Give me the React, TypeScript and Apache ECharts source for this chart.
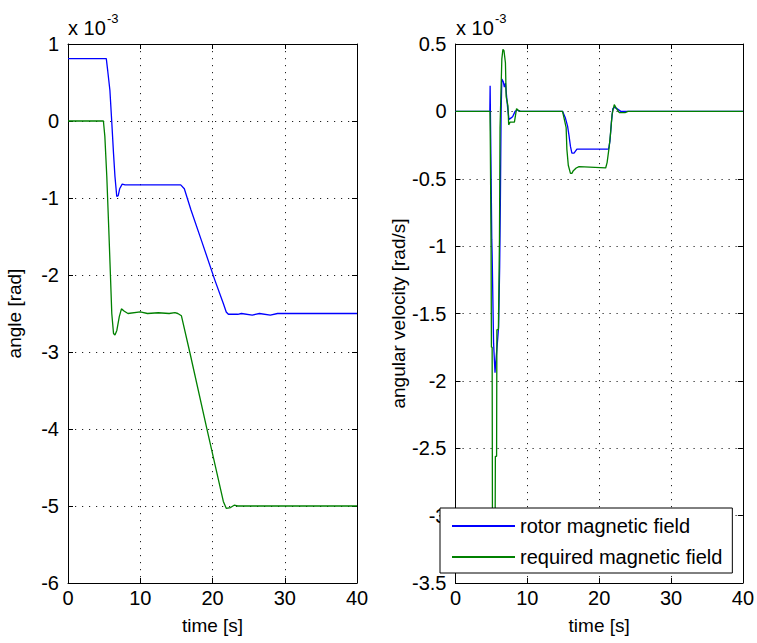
import { useEffect, useRef } from 'react';
import * as echarts from 'echarts';

// ---------- data (values ×1e-3) ----------
const seriesNames = ['rotor magnetic field', 'required magnetic field'];

const angleRotor: number[][] = [
  [0, 0.81], [5.3, 0.81], [5.5, 0.65], [5.8, 0.4], [6.05, 0.0], [6.3, -0.42], [6.5, -0.72],
  [6.75, -0.98], [6.95, -0.97], [7.15, -0.88], [7.5, -0.82], [7.9, -0.83], [15.6, -0.83],
  [16.1, -0.88], [17, -1.15], [18.5, -1.56], [20.3, -2.06], [21.5, -2.37], [21.9, -2.48],
  [22.2, -2.51], [23.5, -2.51], [24, -2.5], [25.5, -2.52], [26.5, -2.5], [28, -2.52],
  [29, -2.5], [40, -2.5],
];

const angleRequired: number[][] = [
  [0, 0], [4.9, 0], [5.1, -0.2], [5.37, -0.72], [5.65, -1.42], [5.88, -2.02], [6.06, -2.5],
  [6.3, -2.76], [6.5, -2.78], [6.76, -2.72], [7.1, -2.54], [7.4, -2.44], [7.8, -2.47],
  [8.3, -2.5], [10, -2.48], [11, -2.5], [12.5, -2.49], [14, -2.5], [14.8, -2.49], [15.2, -2.5],
  [15.7, -2.53], [16.85, -3.0], [19.2, -3.99], [21.5, -4.94], [21.9, -5.03], [22.5, -5.02],
  [23.0, -4.99], [23.5, -5.0], [40, -5.0],
];

const velRotor: number[][] = [
  [0, 0], [4.78, 0], [4.82, 0.19], [4.9, -0.2], [5.05, -0.95], [5.1, -1.06], [5.3, -1.72],
  [5.5, -1.94], [5.55, -1.9], [5.9, -1.67], [6.0, -1.6], [6.15, -1.15], [6.25, -0.65],
  [6.35, 0.0], [6.45, 0.24], [6.65, 0.22], [6.8, 0.18], [6.95, 0.21], [7.1, 0.12], [7.25, 0.03],
  [7.45, -0.06], [7.7, -0.05], [7.95, -0.04], [8.3, 0.0], [8.6, 0.01], [9.0, 0], [14.9, 0],
  [15.3, -0.05], [15.6, -0.11], [15.8, -0.18], [16.0, -0.26], [16.2, -0.31], [16.5, -0.31],
  [16.9, -0.28], [21.3, -0.28], [21.5, -0.22], [21.7, -0.08], [21.9, 0.02], [22.1, 0.03],
  [22.5, 0.02], [23.0, 0], [40, 0],
];

const velRequired: number[][] = [
  [0, 0], [4.8, 0], [4.85, -0.27], [4.95, -1.0], [5.0, -1.75], [5.1, -1.75], [5.15, -3.3],
  [5.5, -3.3], [5.55, -2.56], [5.72, -2.56], [5.76, -1.62], [5.97, -1.62], [6.12, -0.95],
  [6.2, -0.12], [6.45, 0.39], [6.6, 0.46], [6.75, 0.45], [6.95, 0.36], [7.05, 0.11],
  [7.3, 0.04], [7.4, -0.1], [7.6, -0.08], [8.2, -0.08], [8.5, 0.02], [8.7, 0.01], [9, 0],
  [14.9, 0], [15.4, -0.12], [15.5, -0.28], [15.7, -0.4], [16.0, -0.46], [16.2, -0.46],
  [16.4, -0.44], [16.8, -0.42], [17.2, -0.41], [20.9, -0.42], [21.1, -0.38], [21.4, -0.26],
  [21.6, -0.15], [21.8, -0.02], [22.1, 0.05], [22.4, 0.02], [22.8, -0.01], [23.6, -0.01],
  [24, 0], [40, 0],
];

const timeRange = [0, 40, 10];
const angleRange = [-6, 1, 1];
const velRange = [-3.5, 0.5, 0.5];
const axisNames = { time: 'time [s]', angle: 'angle [rad]', vel: 'angular velocity [rad/s]' };
const exponentLabel = ['x 10', '-3'];

const FONT = "'Liberation Sans', Arial, Helvetica, sans-serif";
const BLUE = '#0000ff';
const GREEN = '#008000';

function axis(kind: 'x' | 'y', grid: number, range: number[], primary: boolean, position: string, name?: string, nameGap?: number) {
  return {
    type: 'value',
    gridIndex: grid,
    position,
    min: range[0],
    max: range[1],
    interval: range[2],
    name: primary ? name : undefined,
    nameLocation: 'middle',
    nameGap,
    nameTextStyle: { fontFamily: FONT, fontSize: 19, color: '#000' },
    axisLine: { show: true, onZero: false, lineStyle: { color: '#000', width: 1 } },
    axisTick: { show: true, inside: true, length: 5, lineStyle: { color: '#000', width: 1 } },
    axisLabel: {
      show: primary,
      fontFamily: FONT,
      fontSize: 20,
      color: '#000',
      margin: kind === 'x' ? 5 : 9,
    },
    splitLine: {
      show: primary,
      lineStyle: { color: '#222', width: 1, type: [1.2, 5.8] },
    },
  };
}

function lineSeries(name: string, data: number[][], color: string, ax: number) {
  return {
    type: 'line',
    name,
    data,
    xAxisIndex: ax,
    yAxisIndex: ax,
    color,
    symbol: 'none',
    showSymbol: false,
    lineStyle: { color, width: 1.3 },
    z: 2,
  };
}

export default function App() {
  const ref = useRef<HTMLDivElement>(null);

  useEffect(() => {
    if (!ref.current) return;
    const chart = echarts.init(ref.current, undefined, { renderer: 'svg' });
    const expText = (x: number) => [
      {
        type: 'text',
        x,
        y: 28,
        style: { text: exponentLabel[0], fontFamily: FONT, fontSize: 20, fill: '#000', align: 'left', verticalAlign: 'middle' },
      },
      {
        type: 'text',
        x: x + 39,
        y: 18,
        style: { text: exponentLabel[1], fontFamily: FONT, fontSize: 13, fill: '#000', align: 'left', verticalAlign: 'middle' },
      },
    ];
    chart.setOption({
      animation: false,
      backgroundColor: '#fff',
      grid: [
        { left: 68, top: 44, width: 289, bottom: 60, containLabel: false },
        { left: 455.5, top: 44, width: 288.5, bottom: 60, containLabel: false },
      ],
      xAxis: [
        axis('x', 0, timeRange, true, 'bottom', axisNames.time, 33),
        axis('x', 0, timeRange, false, 'top'),
        axis('x', 1, timeRange, true, 'bottom', axisNames.time, 33),
        axis('x', 1, timeRange, false, 'top'),
      ],
      yAxis: [
        axis('y', 0, angleRange, true, 'left', axisNames.angle, 44),
        axis('y', 0, angleRange, false, 'right'),
        axis('y', 1, velRange, true, 'left', axisNames.vel, 36),
        axis('y', 1, velRange, false, 'right'),
      ],
      legend: {
        data: seriesNames,
        orient: 'vertical',
        left: 440,
        top: 508,
        padding: [8, 10, 6, 12],
        itemGap: 11,
        itemWidth: 63,
        itemHeight: 2,
        icon: 'rect',
        backgroundColor: '#fff',
        borderColor: '#000',
        borderWidth: 1,
        borderRadius: 0,
        selectedMode: false,
        textStyle: { fontFamily: FONT, fontSize: 20, color: '#000', lineHeight: 20 },
        z: 10,
      },
      graphic: [...expText(68), ...expText(456)],
      series: [
        lineSeries(seriesNames[0], angleRotor, BLUE, 0),
        lineSeries(seriesNames[1], angleRequired, GREEN, 0),
        { ...lineSeries(seriesNames[0], velRotor, BLUE, 2), yAxisIndex: 2, xAxisIndex: 2 },
        { ...lineSeries(seriesNames[1], velRequired, GREEN, 2), yAxisIndex: 2, xAxisIndex: 2 },
      ],
    });
    return () => chart.dispose();
  }, []);

  return (
    <div
      ref={ref}
      style={{ position: 'fixed', left: 0, top: 0, width: 757, height: 643, background: '#fff' }}
    />
  );
}
